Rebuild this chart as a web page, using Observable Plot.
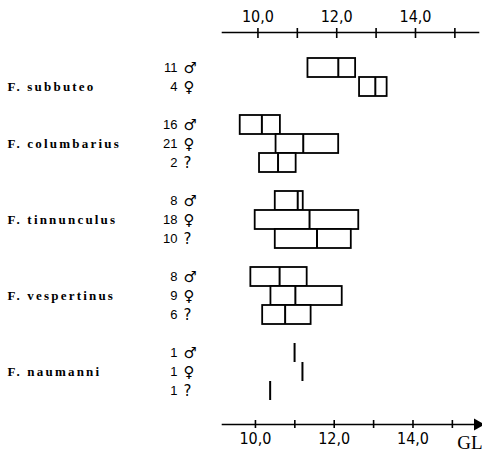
<!DOCTYPE html>
<html>
<head>
<meta charset="utf-8">
<script src="https://cdn.jsdelivr.net/npm/d3@7"></script>
<script src="https://cdn.jsdelivr.net/npm/@observablehq/plot@0.6"></script>
<style>
  html, body { margin: 0; padding: 0; background: #fff; }
  .species text { letter-spacing: 2.2px; }
</style>
</head>
<body>
<div id="chart"></div>
<script>
// ---- data ----
const species = ["F. subbuteo", "F. columbarius", "F. tinnunculus", "F. vespertinus", "F. naumanni"];
const sexes = ["♂", "♀", "?"];
const counts = [[11, 4], [16, 21, 2], [8, 18, 10], [8, 9, 6], [1, 1, 1]];
const mins  = [[11.27, 12.58], [9.55, 10.46, 10.04], [10.44, 9.93, 10.44], [9.82, 10.33, 10.12], [null, null, null]];
const means = [[12.04, 12.98], [10.10, 11.15, 10.51], [11.01, 11.31, 11.50], [10.55, 10.95, 10.69], [10.93, 11.13, 10.31]];
const maxs  = [[12.48, 13.28], [10.57, 12.05, 10.97], [11.15, 12.56, 12.37], [11.25, 12.14, 11.35], [null, null, null]];
const tickValues = [10, 11, 12, 13, 14, 15];
const labelValues = [10, 12, 14];
const axisName = "GL";

// ---- build table ----
const rows = [];
const yDomain = [];
species.forEach((sp, i) => {
  if (i > 0) yDomain.push("gap" + i);
  counts[i].forEach((n, j) => {
    const key = sp + " " + sexes[j];
    yDomain.push(key);
    rows.push({species: sp, sex: sexes[j], n, min: mins[i][j], mean: means[i][j], max: maxs[i][j], key});
  });
});
const boxRows = rows.filter(d => d.min != null && d.max != null);
const speciesRows = species.map((sp, i) => ({species: sp, key: sp + " " + sexes[1]}));
const fmt = d => d.toFixed(1).replace(".", ",");

const chart = Plot.plot({
  width: 482,
  height: 460,
  marginLeft: 222,
  marginRight: 4,
  marginTop: 32,
  marginBottom: 36,
  style: {fontFamily: "'DejaVu Sans Condensed', 'DejaVu Sans', sans-serif", fontSize: "16px", background: "#fff", color: "#000"},
  x: {domain: [9.1, 15.6], axis: null},
  y: {domain: yDomain, axis: null, padding: 0, insetTop: 21, insetBottom: 19},
  marks: [
    Plot.frame({anchor: "top", strokeWidth: 1.6}),
    Plot.frame({anchor: "bottom", strokeWidth: 1.6}),
    // top axis
    Plot.axisX(tickValues, {anchor: "top", tickSize: 10, dy: 5, text: null, strokeWidth: 1.6}),
    Plot.axisX(labelValues, {anchor: "top", tickSize: 0, tickPadding: 11, tickFormat: fmt, label: null}),
    // bottom axis
    Plot.axisX(tickValues, {anchor: "bottom", tickSize: 8, dy: -4, dx: -2.5, text: null, strokeWidth: 1.6}),
    Plot.axisX(labelValues, {anchor: "bottom", tickSize: 0, tickPadding: 8, dx: -2.5, tickFormat: fmt, label: null}),
    Plot.dot([0], {frameAnchor: "bottom-right", symbol: "triangle", rotate: 90, r: 4.5, fill: "black", stroke: null, dx: -1}),
    Plot.text([axisName], {frameAnchor: "bottom-right", dx: 4, dy: 18, textAnchor: "end", lineAnchor: "middle", fontFamily: "'Liberation Serif', serif", fontSize: 19}),
    // boxes: range with mean line
    Plot.barX(boxRows, {x1: "min", x2: "max", y: "key", fill: "white", stroke: "black", strokeWidth: 1.8}),
    Plot.tickX(rows, {x: "mean", y: "key", stroke: "black", strokeWidth: 2}),
    // labels
    Plot.text(rows, {y: "key", text: d => String(d.n), frameAnchor: "left", dx: -45, textAnchor: "end", fontFamily: "'Liberation Sans', sans-serif", fontSize: 13}),
    Plot.text(rows, {y: "key", text: "sex", frameAnchor: "left", dx: -39, textAnchor: "start", fontFamily: "'DejaVu Sans', sans-serif", fontSize: 15}),
    Plot.text(speciesRows, {y: "key", text: "species", frameAnchor: "left", dx: -215, textAnchor: "start", fontFamily: "'Liberation Serif', serif", fontWeight: "bold", fontSize: 13, className: "species"})
  ]
});
document.getElementById("chart").appendChild(chart);
</script>
</body>
</html>
